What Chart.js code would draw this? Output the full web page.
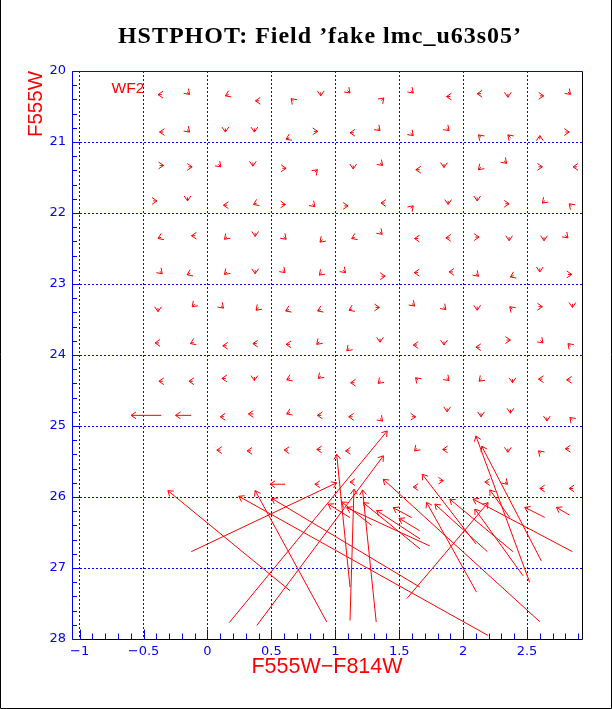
<!DOCTYPE html>
<html lang="en">
<head>
<meta charset="UTF-8">
<title>HSTPHOT fake star offsets</title>
<script src="https://cdn.jsdelivr.net/npm/chart.js"></script>
<style>
  html, body { margin: 0; padding: 0; background: #fff; }
  #box { position: relative; width: 612px; height: 709px; }
  canvas { position: absolute; left: 0; top: 0; }
</style>
</head>
<body>
<div id="box"><canvas id="chart" width="612" height="709"></canvas></div>
<script>
// tick values / labels
const xMajorTicks = [-1, -0.5, 0, 0.5, 1, 1.5, 2, 2.5];
const xTickLabels = ['−1', '−0.5', '0', '0.5', '1', '1.5', '2', '2.5'];
const xMinorTicks = [-1, -0.9, -0.8, -0.7, -0.6, -0.5, -0.4, -0.3, -0.2, -0.1, 0, 0.1, 0.2, 0.3, 0.4, 0.5, 0.6, 0.7, 0.8, 0.9, 1,
  1.1, 1.2, 1.3, 1.4, 1.5, 1.6, 1.7, 1.8, 1.9, 2, 2.1, 2.2, 2.3, 2.4, 2.5, 2.6, 2.7, 2.8, 2.9];
const yMajorTicks = [20, 21, 22, 23, 24, 25, 26, 27, 28];
const yMinorTicks = [20.2, 20.4, 20.6, 20.8, 21.2, 21.4, 21.6, 21.8, 22.2, 22.4, 22.6, 22.8, 23.2, 23.4, 23.6, 23.8,
  24.2, 24.4, 24.6, 24.8, 25.2, 25.4, 25.6, 25.8, 26.2, 26.4, 26.6, 26.8, 27.2, 27.4, 27.6, 27.8];

// small arrows: tip (recovered) position and offset (tip - start)
const smallTipColor = [-0.387, -0.14, 0.14, -0.375, -0.14, 0.14, -0.344, -0.12, 0.105, -0.395, -0.156, 0.125, -0.387, -0.125, 0.133,
  0.375, 0.654, 0.886, 1.115, 1.38, 1.61, 0.367, 0.615, 0.862, 1.115, 1.35, 1.61, 0.355, 0.615, 0.86, 1.14, 1.37, 1.63,
  0.36, 0.61, 0.84, 1.10, 1.357, 1.61, 0.373, 0.615, 0.88, 1.128, 1.367, 1.62,
  1.87, 2.11, 2.35, 2.63, 2.84, 1.89, 2.12, 2.35, 2.60, 2.83, 1.85, 2.12, 2.34, 2.62, 2.86,
  1.883, 2.11, 2.36, 2.62, 2.83, 1.865, 2.125, 2.36, 2.633, 2.82,
  -0.354, -0.16, 0.133, -0.387, -0.12, 0.125, -0.41, -0.133, 0.12, -0.38, -0.145, 0.113, 0.10, 0.073,
  0.373, 0.607, 0.875, 1.08, 1.39, 1.618, 0.38, 0.612, 0.862, 1.107, 1.345, 1.62, 0.355, 0.615, 0.855, 1.09, 1.35, 1.61,
  0.367, 0.62, 0.867, 1.12, 1.336, 1.628, 0.32, 0.62, 0.86, 1.105, 1.37, 1.628, 0.31, 0.60, 0.855, 1.08, 1.62,
  1.89, 2.12, 2.37, 2.60, 2.85, 1.865, 2.11, 2.365, 2.62, 2.855, 1.85, 2.10, 2.37, 2.625, 2.82,
  1.89, 2.125, 2.386, 2.59, 2.81, 1.875, 2.14, 2.37, 2.655, 2.835, 1.84, 2.35, 2.59, 2.80,
  0.84, 1.115, 1.61, 1.845, 2.17, 2.347, 2.60, 2.83];
const smallTipMag = [20.333, 20.33, 20.35, 20.86, 20.86, 20.86, 21.33, 21.35, 21.35, 21.83, 21.83, 21.89, 22.36, 22.32, 22.37,
  20.42, 20.39, 20.35, 20.31, 20.38, 20.31, 20.86, 20.96, 20.85, 20.87, 20.84, 20.91, 21.34, 21.37, 21.39, 21.38, 21.33, 21.39,
  21.88, 21.88, 21.91, 21.9, 21.86, 21.9, 22.33, 22.37, 22.41, 22.36, 22.3, 22.36,
  20.36, 20.32, 20.37, 20.35, 20.33, 20.84, 20.9, 20.9, 20.91, 20.86, 21.36, 21.39, 21.3, 21.35, 21.35,
  21.88, 21.83, 21.87, 21.86, 21.87, 22.35, 22.34, 22.39, 22.39, 22.35,
  22.855, 22.87, 22.865, 23.39, 23.32, 23.34, 23.83, 23.84, 23.87, 24.37, 24.37, 24.33, 24.87, 25.34,
  22.855, 22.84, 22.875, 22.84, 22.89, 22.84, 23.37, 23.38, 23.38, 23.37, 23.33, 23.31, 23.84, 23.85, 23.85, 23.94, 23.82, 23.86,
  24.36, 24.35, 24.33, 24.39, 24.4, 24.32, 24.83, 24.83, 24.85, 24.87, 24.93, 24.87, 25.35, 25.34, 25.33, 25.35, 25.35,
  22.83, 22.89, 22.9, 22.83, 22.865, 23.36, 23.37, 23.32, 23.32, 23.33, 23.86, 23.89, 23.79, 23.83, 23.84,
  24.36, 24.37, 24.39, 24.34, 24.35, 24.8, 24.87, 24.82, 24.93, 24.88, 25.33, 25.37, 25.35, 25.32,
  25.82, 25.79, 25.86, 25.77, 25.79, 25.82, 25.88, 25.88];
const smallDColor = [-0.03, 0.02, -0.025, -0.03, 0.02, 0, 0.03, 0.03, 0.02, 0.03, 0, -0.03, -0.025, -0.03, -0.02,
  -0.03, -0.02, 0, 0.02, 0.02, 0.02, 0, -0.025, 0.03, -0.03, 0.02, 0.02, 0, 0.03, 0.02, 0, 0.02, -0.03,
  -0.025, 0.03, 0.02, 0.03, -0.03, 0.02, 0, 0.02, -0.02, -0.025, 0.02, -0.03,
  -0.03, -0.03, 0, 0.03, 0.02, 0.02, -0.02, -0.02, 0, 0.03, 0, -0.02, 0.02, 0.03, -0.03,
  0, 0, 0.03, -0.02, -0.02, -0.03, 0.03, 0, 0, 0.02,
  0.02, -0.025, -0.02, 0, -0.02, 0.02, -0.03, -0.025, -0.03, -0.03, -0.03, -0.03, -0.03, -0.03,
  0, 0.02, -0.02, 0.02, 0.03, -0.03, -0.02, -0.025, -0.025, -0.025, 0.03, 0.02, -0.03, -0.03, -0.02, -0.02, 0, -0.03,
  0, -0.025, -0.02, -0.03, -0.02, -0.02, -0.04, -0.025, -0.03, -0.03, 0.02, 0.03, -0.03, -0.03, -0.03, -0.03, -0.02,
  -0.03, 0.02, -0.025, 0, 0.03, 0.02, 0, -0.02, 0.03, 0, 0, -0.03, 0.03, 0.02, -0.02,
  0.02, -0.02, 0, -0.03, -0.03, 0, 0, 0, 0, -0.02, -0.03, 0, -0.02, -0.03,
  -0.03, -0.03, -0.03, 0.03, -0.03, 0.02, -0.03, -0.03];
const smallDMag = [0, 0.035, 0.02, 0, 0.035, 0.05, 0, 0, 0.035, 0, 0.05, 0, 0.02, 0, 0.035,
  0, -0.035, 0.05, 0.035, -0.035, 0.035, 0.05, 0.02, 0, 0, 0.035, 0.035, 0.05, 0, -0.035, 0.05, 0.035, 0,
  0.02, 0, 0.035, 0, 0, -0.035, 0.05, 0.035, 0.035, 0.02, 0.035, 0,
  0, 0, 0.05, 0, 0.035, 0.035, -0.035, -0.035, -0.05, 0, 0.05, 0.035, 0.035, 0, 0,
  0.05, 0.05, 0, 0.035, -0.035, 0, 0, 0.05, 0.05, 0.035,
  0.035, 0.02, 0.035, 0.05, 0.035, 0.035, 0, 0.02, 0, 0, 0, 0, 0, 0,
  0.05, 0.035, 0.035, 0.035, 0, 0, 0.035, 0.02, 0.02, 0.02, 0, 0.035, 0, 0, 0.035, 0.035, 0.05, 0,
  0.05, 0.02, 0.035, 0, 0.035, -0.035, 0, 0.02, 0, 0, 0.035, 0, 0, 0, 0, 0, 0.035,
  0, 0.035, 0.02, 0.05, 0, 0.035, 0.05, -0.035, 0, 0.05, 0.05, 0, 0, 0.035, -0.035,
  0.035, 0.035, 0.05, 0, 0, 0.05, 0.05, 0.05, 0.05, -0.035, 0, 0.05, -0.035, 0,
  0, 0, 0, 0, 0, 0.035, 0, 0];

// long arrows: tip and start positions
const longTipColor = [-0.598, -0.25, 1.406, -0.31, 1.01, 1.376, 0.373, 0.503, 0.245, 1.011, 1.146, 1.213, 2.195, 1.68, 0.49,
  0.945, 1.05, 1.219, 1.323, 1.453, 1.50, 1.089, 1.375, 2.10, 2.146, 1.896, 2.078, 2.092, 2.482, 2.73, 2.209, 1.714, 1.779];
const longTipMag = [24.85, 24.85, 25.07, 25.91, 25.80, 25.42, 25.91, 26.02, 25.99, 25.40, 25.89, 25.9, 26.08, 25.68, 25.82,
  26.10, 26.07, 26.08, 26.19, 26.15, 26.30, 26.15, 25.75, 25.14, 25.285, 26.03, 26.03, 26.17, 26.146, 26.146, 25.90, 26.076, 26.10];
const longStartColor = [-0.362, -0.128, 0.17, 0.646, -0.127, 0.386, 0.933, 1.662, 2.195, 1.115, 1.115, 1.32, 1.56, 2.10, 0.607,
  1.115, 1.284, 1.662, 1.662, 1.597, 1.66, 1.74, 2.599, 2.52, 2.612, 2.39, 2.855, 2.469, 2.638, 2.833, 2.365, 2.105, 2.19];
const longStartMag = [24.85, 24.85, 27.77, 27.32, 26.77, 27.81, 27.76, 27.27, 27.95, 27.27, 27.74, 27.76, 27.43, 26.66, 25.82,
  26.29, 26.40, 26.73, 26.59, 26.29, 26.475, 26.69, 27.755, 27.20, 26.90, 26.77, 26.77, 27.11, 26.287, 26.255, 26.29, 27.34, 26.77];

const points = [];
smallTipColor.forEach((c, i) => points.push({x: c, y: smallTipMag[i], x0: c - smallDColor[i], y0: smallTipMag[i] - smallDMag[i]}));
longTipColor.forEach((c, i) => points.push({x: c, y: longTipMag[i], x0: longStartColor[i], y0: longStartMag[i]}));

const BLUE = '#0000ff';
const RED = '#ff0000';

// arrows, frame, inward ticks and labels drawn with the chart scales
const arrowPlugin = {
  id: 'arrows',
  afterDatasetsDraw(chart) {
    const {ctx, chartArea: a, scales: {x, y}} = chart;
    ctx.save();
    ctx.beginPath();
    ctx.rect(a.left, a.top, a.right - a.left, a.bottom - a.top);
    ctx.clip();
    ctx.strokeStyle = RED;
    ctx.lineWidth = 1;
    chart.data.datasets[0].data.forEach(p => {
      const x1 = x.getPixelForValue(p.x), y1 = y.getPixelForValue(p.y);
      const x0 = x.getPixelForValue(p.x0), y0 = y.getPixelForValue(p.y0);
      const ang = Math.atan2(y1 - y0, x1 - x0);
      const h = 6, spread = 0.6;
      ctx.beginPath();
      ctx.moveTo(x0, y0);
      ctx.lineTo(x1, y1);
      ctx.moveTo(x1 - h * Math.cos(ang - spread), y1 - h * Math.sin(ang - spread));
      ctx.lineTo(x1, y1);
      ctx.lineTo(x1 - h * Math.cos(ang + spread), y1 - h * Math.sin(ang + spread));
      ctx.stroke();
    });
    ctx.restore();

    // frame
    ctx.save();
    ctx.lineWidth = 1;
    const L = Math.round(a.left) + 0.5, R = Math.round(a.right) + 0.5;
    const T = Math.round(a.top) + 0.5, B = Math.round(a.bottom) + 0.5;
    ctx.strokeStyle = BLUE;
    ctx.beginPath(); ctx.moveTo(L, B); ctx.lineTo(L, T); ctx.lineTo(R, T); ctx.stroke();
    ctx.strokeStyle = '#000';
    ctx.beginPath(); ctx.moveTo(R, T); ctx.lineTo(R, B); ctx.lineTo(L, B); ctx.stroke();
    // inward ticks
    ctx.strokeStyle = BLUE;
    ctx.beginPath();
    xMinorTicks.forEach(v => {
      const px = Math.round(x.getPixelForValue(v)) + 0.5;
      const len = xMajorTicks.includes(v) ? 10 : 6;
      ctx.moveTo(px, B); ctx.lineTo(px, B - len);
    });
    yMinorTicks.forEach(v => {
      const py = Math.round(y.getPixelForValue(v)) + 0.5;
      ctx.moveTo(L, py); ctx.lineTo(L + 4.5, py);
    });
    yMajorTicks.forEach(v => {
      const py = Math.round(y.getPixelForValue(v)) + 0.5;
      ctx.moveTo(L, py); ctx.lineTo(L + 8, py);
    });
    ctx.stroke();
    // chip label
    ctx.fillStyle = RED;
    ctx.font = '15.5px "Liberation Sans", Arial, sans-serif';
    ctx.textBaseline = 'alphabetic';
    ctx.textAlign = 'left';
    ctx.fillText('WF2', x.getPixelForValue(-0.75), y.getPixelForValue(20.31));
    // y axis title, reading upwards, ending at the top of the plot
    ctx.save();
    ctx.translate(42, a.top);
    ctx.rotate(-Math.PI / 2);
    ctx.textAlign = 'right';
    ctx.font = '20.5px "Liberation Sans", Arial, sans-serif';
    ctx.fillText('F555W', 0, 0);
    ctx.restore();
    // page frame
    ctx.strokeStyle = '#000';
    ctx.beginPath();
    ctx.moveTo(0.5, 0); ctx.lineTo(0.5, 708.5); ctx.lineTo(611.5, 708.5); ctx.lineTo(611.5, 0);
    ctx.stroke();
    // main title
    ctx.fillStyle = '#000';
    ctx.textAlign = 'center';
    ctx.font = 'bold 24px "Liberation Serif", "Times New Roman", serif';
    ctx.letterSpacing = '1px';
    ctx.fillText(chart.options.plugins.title.text, 320, 43);
    ctx.restore();
  }
};

new Chart(document.getElementById('chart'), {
  type: 'scatter',
  data: {
    datasets: [{
      label: 'fake stars',
      data: points,
      pointRadius: 0,
      showLine: false
    }]
  },
  options: {
    responsive: false,
    animation: false,
    layout: { padding: { left: 0, right: 30, top: 71, bottom: 0 } },
    plugins: {
      legend: { display: false },
      tooltip: { enabled: false },
      title: {
        display: false,
        text: 'HSTPHOT: Field ’fake lmc_u63s05’'
      }
    },
    scales: {
      x: {
        type: 'linear',
        min: -1.06,
        max: 2.93,
        afterBuildTicks: s => { s.ticks = xMajorTicks.map(v => ({value: v})); },
        afterFit: s => { s.height = 70; },
        ticks: {
          color: BLUE,
          autoSkip: false,
          maxRotation: 0,
          padding: 5,
          font: { family: '"DejaVu Sans", sans-serif', size: 13 },
          callback: (v, i) => xTickLabels[i]
        },
        grid: { color: BLUE, lineWidth: 1, drawTicks: false },
        border: { display: false, dash: [2, 2] },
        title: {
          display: true,
          text: 'F555W−F814W',
          color: RED,
          font: { family: '"Liberation Sans", Arial, sans-serif', size: 21.5 },
          padding: { top: 0, bottom: 29 }
        }
      },
      y: {
        type: 'linear',
        reverse: true,
        min: 20,
        max: 28,
        afterBuildTicks: s => { s.ticks = yMajorTicks.map(v => ({value: v})); },
        afterFit: s => { s.width = 72; },
        ticks: {
          color: BLUE,
          autoSkip: false,
          padding: 6,
          font: { family: '"DejaVu Sans", sans-serif', size: 13 },
          callback: v => String(v)
        },
        grid: {
          color: c => (c.tick && (c.tick.value === 20 || c.tick.value === 28)) ? 'rgba(0,0,0,0)' : BLUE,
          lineWidth: 1,
          drawTicks: false
        },
        border: { display: false, dash: [2, 2] },
        title: { display: false, text: 'F555W' }
      }
    }
  },
  plugins: [arrowPlugin]
});
</script>
</body>
</html>
